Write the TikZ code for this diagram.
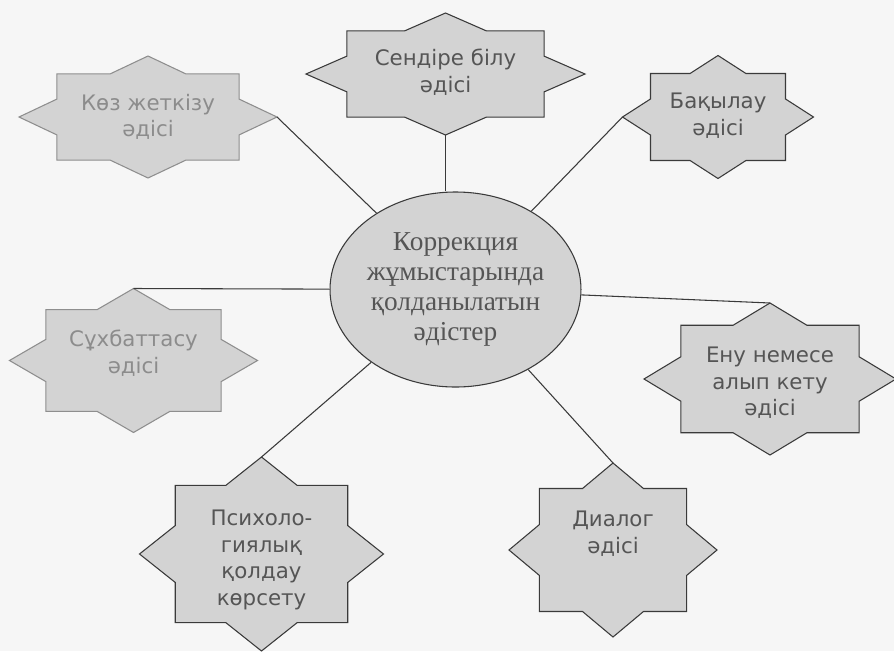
\documentclass[tikz,border=0pt]{standalone}
\usepackage{fontspec}
\setmainfont{Liberation Serif}
\newfontfamily\labelfont{DejaVu Sans}
\usetikzlibrary{shapes.geometric}

\definecolor{paper}{HTML}{F6F6F6}
\definecolor{shapefill}{HTML}{D3D3D3}
\definecolor{edge}{HTML}{3A3A3A}
\definecolor{ink}{HTML}{555555}
\definecolor{fadeink}{HTML}{8C8C8C}
\definecolor{fadeedge}{HTML}{8E8E8E}

\tikzset{
  starbox/.style={fill=shapefill, draw=edge, line width=0.8pt, line join=miter},
  fadedbox/.style={draw=fadeedge},
  startext/.style={font=\labelfont\fontsize{16}{20}\selectfont, text=ink, align=center, inner sep=0pt},
  fadedtext/.style={text=fadeink},
  hub/.style={ellipse, fill=shapefill, draw=edge, line width=0.8pt,
    minimum width=183.75pt, minimum height=146.25pt, inner sep=0pt,
    align=center, text=ink, font=\fontsize{20.5}{22.5}\selectfont},
  spoke/.style={draw=edge, line width=0.8pt},
}

% eight-pointed star: #1 name, #2 centre, #3 x radius, #4 y radius,
% #5 outline style, #6 text style, #7 text position, #8 text
\newcommand\octstar[8]{%
  \begin{scope}[shift={#2}, xscale=#3, yscale=#4]
    \path[starbox,#5] (0,-1) -- (.2929,-.7071) -- (.7071,-.7071) -- (.7071,-.2929)
      -- (1,0) -- (.7071,.2929) -- (.7071,.7071) -- (.2929,.7071)
      -- (0,1) -- (-.2929,.7071) -- (-.7071,.7071) -- (-.7071,.2929)
      -- (-1,0) -- (-.7071,-.2929) -- (-.7071,-.7071) -- (-.2929,-.7071) -- cycle;
    \coordinate (#1-n) at (0,-1);
    \coordinate (#1-s) at (0,1);
    \coordinate (#1-e) at (1,0);
    \coordinate (#1-w) at (-1,0);
  \end{scope}
  \node[startext,#6] (#1) at #7 {#8};
}

\begin{document}
\begin{tikzpicture}[x=0.75pt, y=-0.75pt]
  \fill[paper] (0,0) rectangle (894,651);
  \useasboundingbox (0,0) rectangle (894,651);

  \node[hub] (c) at (455.5,289.5) {Коррекция\\жұмыстарында\\қолданылатын\\әдістер};

  \octstar{koz}{(148,117)}{129}{61}{fadedbox}{fadedtext}{(148,117)}{Көз жеткізу\\әдісі}
  \octstar{sen}{(445.5,74)}{139.5}{61}{}{}{(445.5,72)}{Сендіре білу\\әдісі}
  \octstar{bak}{(718,117)}{95.5}{61.5}{}{}{(718,116)}{Бақылау\\әдісі}
  \octstar{suh}{(133.5,360.5)}{124}{72}{fadedbox}{fadedtext}{(133.5,353)}{Сұхбаттасу\\әдісі}
  \octstar{enu}{(770,379)}{126}{76}{}{}{(770,383)}{Ену немесе\\алып кету\\әдісі}
  \octstar{psy}{(261.5,554)}{122}{97}{}{}{(261.5,560)}{Психоло-\\гиялық\\қолдау\\көрсету}
  \octstar{dia}{(613,550)}{104}{87}{}{}{(613,534)}{Диалог\\әдісі}

  \draw[spoke] (c) -- (koz-e);
  \draw[spoke] (c.north -| sen-s) -- (sen-s);
  \draw[spoke] (c) -- (bak-w);
  \draw[spoke] (c) -- (suh-n);
  \draw[spoke] (c) -- (enu-n);
  \draw[spoke] (c) -- (psy-n);
  \draw[spoke] (c) -- (dia-n);
\end{tikzpicture}
\end{document}
